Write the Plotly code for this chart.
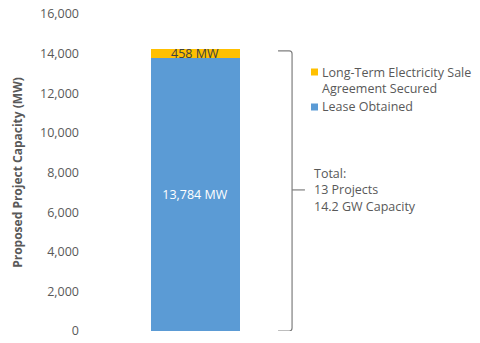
import plotly.graph_objects as go

categories = ["Projects"]
lease_obtained = [13784]
ltesa_secured = [458]
series_names = ["Lease Obtained", "Long-Term Electricity Sale<br>Agreement Secured"]
lease_labels = ["13,784 MW"]
ltesa_labels = ["458 MW"]
tick_values = [0, 2000, 4000, 6000, 8000, 10000, 12000, 14000, 16000]
total_text = "Total:<br>13 Projects<br>14.2 GW Capacity"

BLUE = "#5B9BD5"
YELLOW = "#FFC000"
GREY = "#595959"
FONT = "Open Sans"
FS = 12.5

fig = go.Figure()
fig.add_trace(go.Bar(
    x=categories, y=lease_obtained, name=series_names[0],
    marker=dict(color=BLUE, line=dict(width=0)),
    text=lease_labels, textposition="inside", insidetextanchor="middle",
    textfont=dict(color="white", size=FS, family=FONT),
    constraintext="none", width=0.387, hoverinfo="skip", showlegend=False,
))
fig.add_trace(go.Bar(
    x=categories, y=ltesa_secured, name=series_names[1],
    marker=dict(color=YELLOW, line=dict(width=0)),
    text=ltesa_labels, textposition="inside", insidetextanchor="middle",
    textfont=dict(color="#404040", size=FS, family=FONT),
    constraintext="none", width=0.387, hoverinfo="skip", showlegend=False,
))

total = lease_obtained[0] + ltesa_secured[0]

# bracket
bx0, bx1, bxm = 0.861, 0.922, 0.978
fig.add_shape(type="path", xref="paper", yref="y",
              path=f"M {bx0},{total - 100} L {bx1 - 0.012},{total - 100} Q {bx1},{total - 100} {bx1},{total - 250} "
                   f"L {bx1},{150} Q {bx1},{0} {bx1 - 0.012},{0} L {bx0},{0}",
              line=dict(color="#7f7f7f", width=1.2))
fig.add_shape(type="line", xref="paper", yref="y",
              x0=bx1, x1=bxm, y0=total / 2, y1=total / 2,
              line=dict(color="#7f7f7f", width=1.2))

fig.add_annotation(xref="paper", yref="y", x=1.009, y=total / 2 + 10,
                   xanchor="left", yanchor="middle", align="left",
                   text=total_text, showarrow=False,
                   font=dict(family=FONT, size=FS, color=GREY))

# legend (custom, reversed order like the reference)
def px_to_paper_x(px):
    return (px - 80) / 230

def px_to_paper_y(py):
    return (331 - py) / 317

legend_items = [(series_names[1], YELLOW, 72, 80), (series_names[0], BLUE, 107, 107)]
for name, color, sq_y, txt_y in legend_items:
    fig.add_shape(type="rect", xref="paper", yref="paper",
                  x0=px_to_paper_x(311), x1=px_to_paper_x(318),
                  y0=px_to_paper_y(sq_y + 3.5), y1=px_to_paper_y(sq_y - 3.5),
                  fillcolor=color, line=dict(width=0))
    fig.add_annotation(xref="paper", yref="paper", x=px_to_paper_x(320),
                       y=px_to_paper_y(txt_y), xanchor="left", yanchor="middle",
                       align="left", text=name, showarrow=False,
                       font=dict(family=FONT, size=FS, color=GREY))

fig.update_layout(
    width=480, height=343,
    margin=dict(l=80, r=170, t=14, b=12),
    barmode="stack",
    paper_bgcolor="white", plot_bgcolor="white",
    font=dict(family=FONT, size=FS, color=GREY),
    showlegend=False,
    xaxis=dict(range=[-0.5, 0.5], showticklabels=False, showline=False,
               showgrid=False, zeroline=False, ticks="", automargin=False),
    yaxis=dict(range=[0, 16000], tickvals=tick_values, tickformat=",d",
               showgrid=False, zeroline=False, showline=False, ticks="",
               automargin=False,
               tickfont=dict(family=FONT, size=FS, color=GREY),
               title=dict(text="<b>Proposed Project Capacity (MW)</b>",
                          font=dict(family=FONT, size=12, color=GREY), standoff=14)),
)

fig.write_html("out.html")
